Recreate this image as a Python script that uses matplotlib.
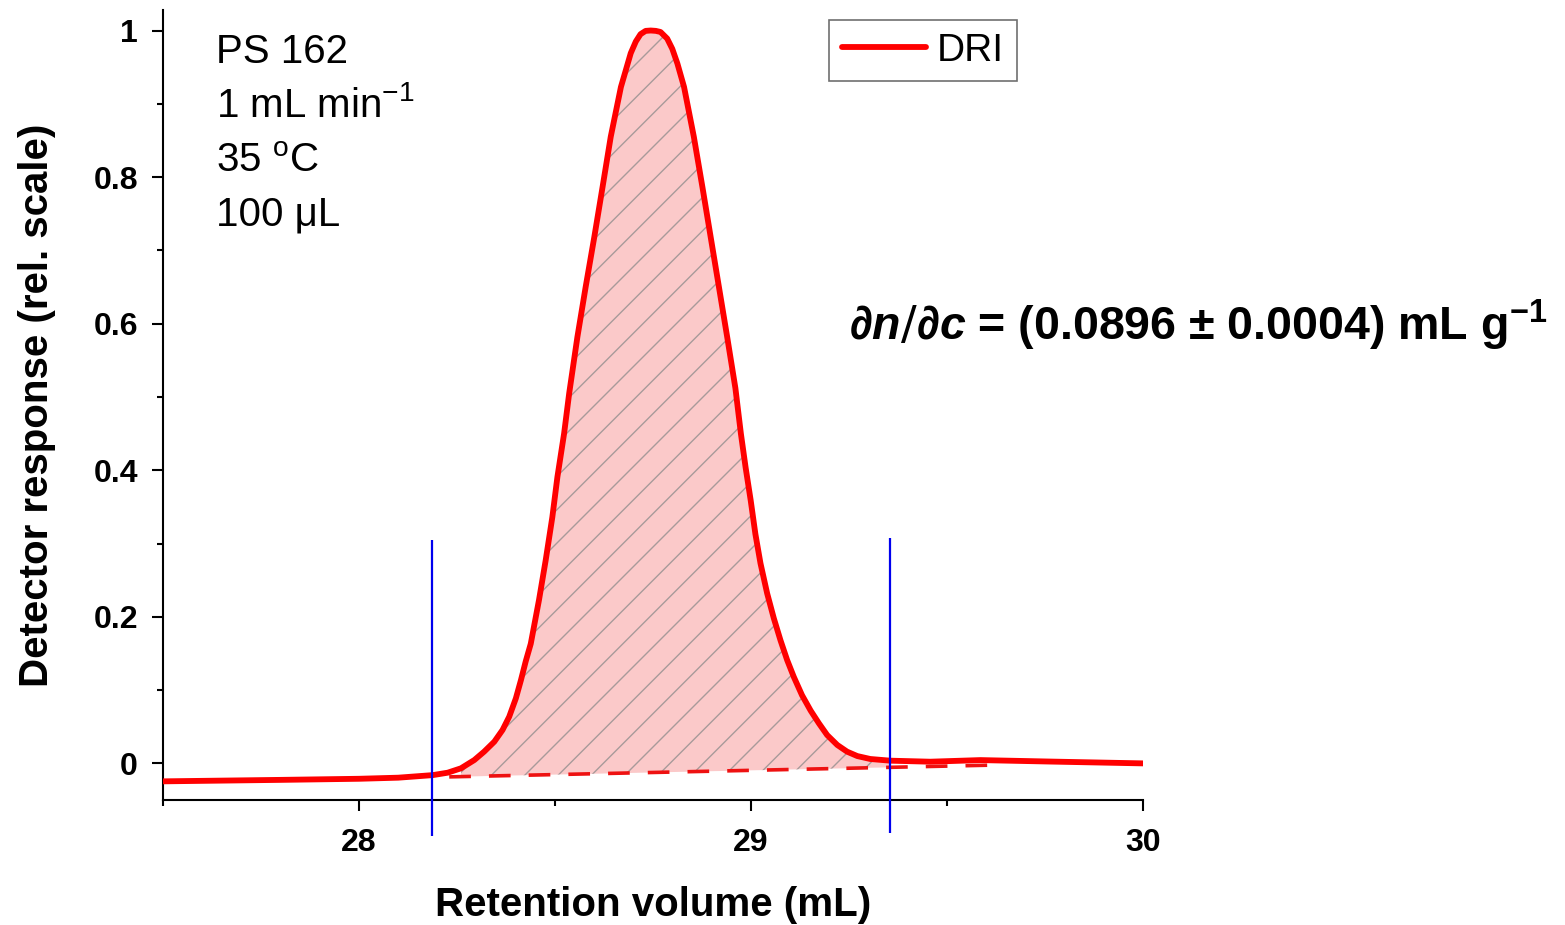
import numpy as np
import matplotlib
matplotlib.use("Agg")
import matplotlib.pyplot as plt
from matplotlib.ticker import FuncFormatter, MultipleLocator

plt.rcParams['font.family'] = ['Liberation Sans', 'DejaVu Sans']
plt.rcParams['mathtext.fontset'] = 'custom'
plt.rcParams['mathtext.default'] = 'regular'
plt.rcParams['mathtext.it'] = 'Liberation Sans:italic:bold'
plt.rcParams['hatch.linewidth'] = 1.0

# DRI trace (retention volume in mL, normalised response)
vol = [27.50, 27.80, 28.00, 28.10, 28.188, 28.226, 28.260, 28.294, 28.319, 28.345,
       28.366, 28.383, 28.400, 28.413, 28.425, 28.438, 28.459, 28.476, 28.493,
       28.506, 28.523, 28.536, 28.557, 28.578, 28.600, 28.621, 28.642, 28.655,
       28.668, 28.680, 28.693, 28.706, 28.718, 28.731, 28.744, 28.757, 28.769,
       28.786, 28.799, 28.812, 28.829, 28.854, 28.876, 28.897, 28.918, 28.939,
       28.960, 28.974, 28.986, 28.999, 29.011, 29.024, 29.041, 29.058, 29.075,
       29.092, 29.109, 29.130, 29.152, 29.173, 29.194, 29.220, 29.245, 29.271,
       29.304, 29.355, 29.457, 29.585, 29.763, 30.00]
resp = [-0.0245, -0.0225, -0.021, -0.0195, -0.016, -0.0127, -0.0067, 0.0046, 0.016, 0.0296,
        0.0456, 0.0637, 0.0888, 0.1138, 0.139, 0.1633, 0.223, 0.277, 0.336,
        0.391, 0.450, 0.505, 0.582, 0.650, 0.718, 0.786, 0.855, 0.889,
        0.923, 0.945, 0.969, 0.985, 0.995, 0.9995, 1.000, 0.9995, 0.998,
        0.989, 0.975, 0.955, 0.923, 0.855, 0.786, 0.718, 0.650, 0.582,
        0.512, 0.450, 0.404, 0.359, 0.313, 0.273, 0.232, 0.198, 0.168,
        0.141, 0.118, 0.093, 0.072, 0.0547, 0.0387, 0.0251, 0.016, 0.010,
        0.006, 0.0037, 0.0023, 0.0045, 0.0025, 0.000]

# integration baseline and limits
base_x = [28.23, 29.62]
base_y = [-0.0184, -0.0023]
limits = [28.186, 29.355]

vol = np.array(vol)
resp = np.array(resp)

fig = plt.figure(figsize=(15.65, 9.25), dpi=100)
ax = fig.add_axes([0.1042, 0.1351, 0.6262, 0.8541])

# shaded peak area between trace and baseline
sel = (vol >= base_x[0]) & (vol <= limits[1])
xs = vol[sel]
ax.fill_between(xs, resp[sel], np.interp(xs, base_x, base_y),
                facecolor='#fbc9c9', edgecolor='#a89a9a', hatch='/', linewidth=0, zorder=1)

ax.plot(base_x, base_y, color='#ee1111', lw=2.6, ls=(0, (6, 5)), zorder=2)
ax.plot(vol, resp, color='#ff0000', lw=4.2, label='DRI', zorder=3,
        solid_capstyle='round', solid_joinstyle='round')
ax.vlines(limits, [-0.099, -0.095], [0.305, 0.3075], color='#0000ee', lw=1.6,
          clip_on=False, zorder=4)

ax.set_xlim(27.5, 30)
ax.set_ylim(-0.05, 1.028)
ax.xaxis.set_major_locator(MultipleLocator(1))
ax.xaxis.set_minor_locator(MultipleLocator(0.5))
ax.yaxis.set_major_locator(MultipleLocator(0.2))
ax.yaxis.set_minor_locator(MultipleLocator(0.1))
ax.yaxis.set_major_formatter(FuncFormatter(lambda v, p: '%g' % round(v, 2)))
ax.xaxis.set_major_formatter(FuncFormatter(lambda v, p: '%g' % v))

for s in ['top', 'right']:
    ax.spines[s].set_visible(False)
for s in ['left', 'bottom']:
    ax.spines[s].set_linewidth(1.5)
ax.tick_params(which='major', direction='out', length=8, width=1.5, labelsize=23)
ax.tick_params(axis='x', which='major', pad=12)
ax.tick_params(axis='y', which='major', pad=10)
ax.tick_params(which='minor', direction='out', length=4.5, width=1.5)
for lab in ax.get_xticklabels() + ax.get_yticklabels():
    lab.set_fontweight('bold')

ax.set_xlabel('Retention volume (mL)', fontsize=29, fontweight='bold', labelpad=20)
ax.set_ylabel('Detector response (rel. scale)', fontsize=29, fontweight='bold', labelpad=27)

# run conditions
info = ['PS 162', r'1 mL min$^{-1}$', r'35 $^{o}$C', '100 μL']
for i, t in enumerate(info):
    ax.text(0.054, 0.933 - i * 0.0688, t, transform=ax.transAxes, fontsize=29,
            va='baseline', ha='left')

ax.text(0.70, 0.601, r'∂$\mathit{n/}$∂$\mathit{c}$ = (0.0896 ± 0.0004) mL g$^{-1}$',
        transform=ax.transAxes, fontsize=33.5, fontweight='bold', va='center', ha='left')

leg = ax.legend(loc='upper left', bbox_to_anchor=(0.68, 0.987), borderaxespad=0,
                fontsize=28, fancybox=False, edgecolor='#707070', framealpha=1,
                handlelength=2.15, handletextpad=0.3, borderpad=0.32)
leg.get_frame().set_linewidth(1.2)

fig.savefig('out.png', dpi=100)
